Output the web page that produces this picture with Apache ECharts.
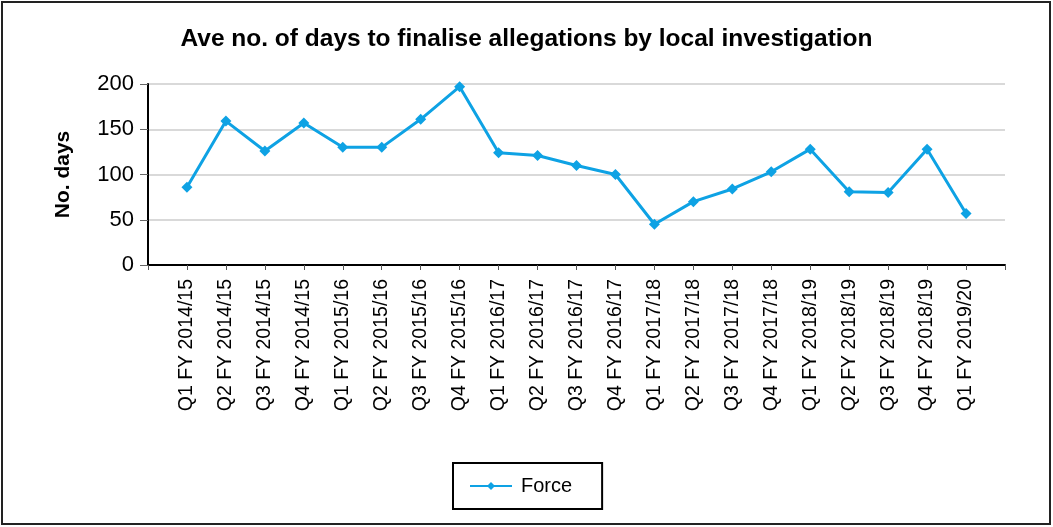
<!DOCTYPE html>
<html>
<head>
<meta charset="utf-8">
<script src="https://cdn.jsdelivr.net/npm/echarts@6/dist/echarts.min.js"></script>
<style>
    html, body { margin: 0; padding: 0; background: #fff; }
    #chart { width: 1053px; height: 527px; }
</style>
</head>
<body>
<div id="chart"></div>
<script>
'use strict';

const quarters = [
    'Q1 FY 2014/15', 'Q2 FY 2014/15', 'Q3 FY 2014/15', 'Q4 FY 2014/15',
    'Q1 FY 2015/16', 'Q2 FY 2015/16', 'Q3 FY 2015/16', 'Q4 FY 2015/16',
    'Q1 FY 2016/17', 'Q2 FY 2016/17', 'Q3 FY 2016/17', 'Q4 FY 2016/17',
    'Q1 FY 2017/18', 'Q2 FY 2017/18', 'Q3 FY 2017/18', 'Q4 FY 2017/18',
    'Q1 FY 2018/19', 'Q2 FY 2018/19', 'Q3 FY 2018/19', 'Q4 FY 2018/19',
    'Q1 FY 2019/20'
];
const forceDays = [
    86, 159, 126, 157,
    130, 130, 161, 197,
    124, 121, 110, 100,
    45, 70, 84, 103,
    128, 81, 80, 128,
    57
];
const yTicks = [0, 50, 100, 150, 200];

const font = '"Liberation Sans", Arial, sans-serif';

// empty slot at each end so points sit on the ticks like the original
const axisCats = [''].concat(quarters, ['']);
const seriesData = [null].concat(forceDays, [null]);

const chart = echarts.init(document.getElementById('chart'));
chart.setOption({
    animation: false,
    backgroundColor: '#fff',
    title: {
        text: 'Ave no. of days to finalise allegations by local investigation',
        left: 'center',
        top: 22,
        textStyle: { fontFamily: font, fontSize: 24.5, fontWeight: 'bold', color: '#000' }
    },
    graphic: [{
        type: 'rect',
        shape: { x: 2, y: 2, width: 1048, height: 522 },
        style: { fill: 'none', stroke: '#222', lineWidth: 2 }
    }],
    grid: { left: 148, right: 48, top: 84, bottom: 262 },
    legend: {
        data: ['Force'],
        left: 453,
        top: 463,
        padding: [13, 30, 13, 16],
        borderColor: '#000',
        borderWidth: 2,
        itemWidth: 42,
        itemHeight: 10,
        itemGap: 8,
        textStyle: { fontFamily: font, fontSize: 20, color: '#000', padding: [0, 0, 0, 4] }
    },
    xAxis: {
        type: 'category',
        data: axisCats,
        boundaryGap: false,
        axisLine: { lineStyle: { color: '#000', width: 2 } },
        axisTick: { show: true, length: 5, interval: 0, lineStyle: { color: '#555' } },
        axisLabel: {
            interval: 0,
            rotate: 90,
            margin: 14,
            fontFamily: font,
            fontSize: 19.5,
            color: '#000'
        }
    },
    yAxis: {
        type: 'value',
        min: yTicks[0],
        max: yTicks[yTicks.length - 1],
        interval: 50,
        name: 'No. days',
        nameLocation: 'middle',
        nameGap: 74,
        nameTextStyle: { fontFamily: font, fontSize: 21, fontWeight: 'bold', color: '#000' },
        axisLine: { show: true, lineStyle: { color: '#000', width: 2 } },
        axisTick: { show: true, length: 8, lineStyle: { color: '#666' } },
        axisLabel: { fontFamily: font, fontSize: 22, color: '#000', margin: 14 },
        splitLine: { lineStyle: { color: '#d9d9d9', width: 2 } }
    },
    series: [{
        name: 'Force',
        type: 'line',
        data: seriesData,
        symbol: 'diamond',
        symbolSize: 11,
        connectNulls: false,
        itemStyle: { color: '#0ea2e4' },
        lineStyle: { color: '#0ea2e4', width: 3 }
    }]
});
</script>
</body>
</html>
